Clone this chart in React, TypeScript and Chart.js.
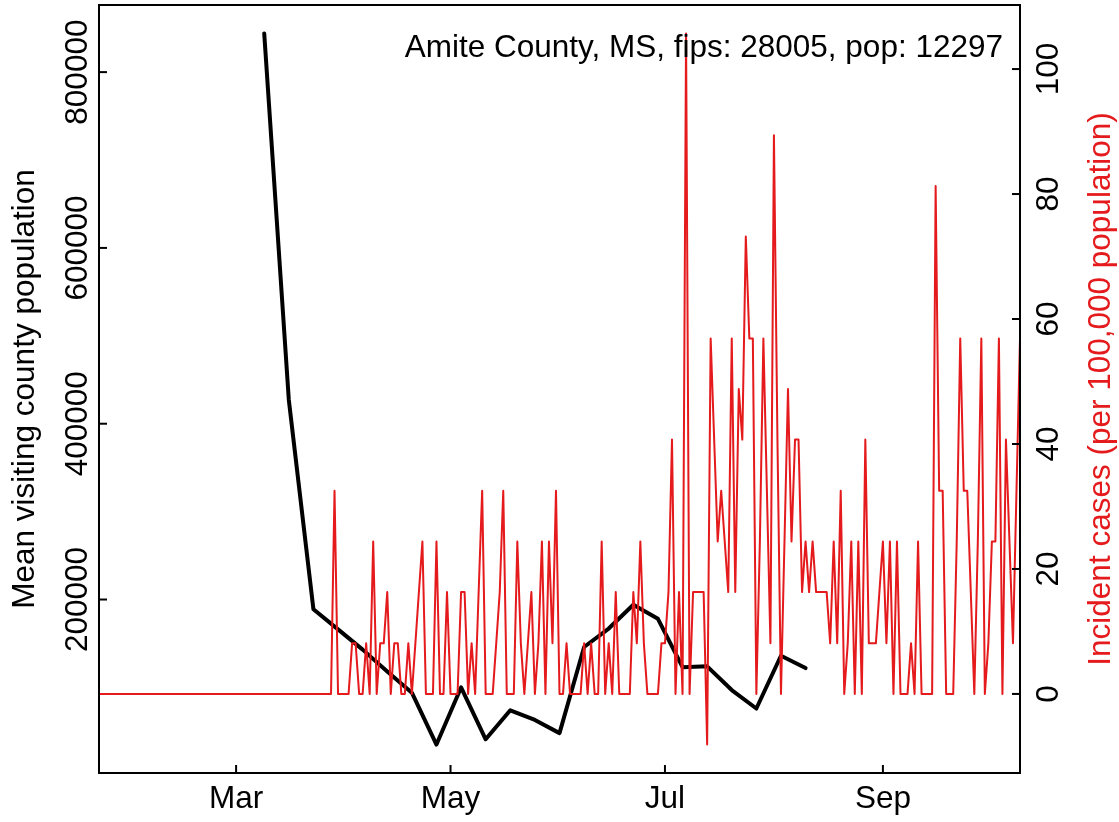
import React, { useEffect, useRef } from 'react';
import { Chart, registerables } from 'chart.js';

Chart.register(...registerables);

// x values are days since 2020-01-22
const monthTickDays = [39, 100, 161, 223];
const monthTickLabels = ['Mar', 'May', 'Jul', 'Sep'];

const weekDays = [47, 54, 61, 68, 75, 82, 89, 96, 103, 110, 117, 124, 131, 138, 145, 152, 159, 166, 173, 180, 187, 194, 201];
const meanVisitingPop = [844000, 427000, 189000, 166000, 143000, 118000, 94000, 35000, 100000, 41000, 74000, 63000, 48000, 146000, 167000, 194000, 178000, 123000, 124000, 97000, 76000, 136000, 122000];

// daily incident cases per 100,000 population, day 0 .. 262
const dailyIncidence = [
  0, 0, 0, 0, 0, 0, 0, 0, 0, 0,
  0, 0, 0, 0, 0, 0, 0, 0, 0, 0,
  0, 0, 0, 0, 0, 0, 0, 0, 0, 0,
  0, 0, 0, 0, 0, 0, 0, 0, 0, 0,
  0, 0, 0, 0, 0, 0, 0, 0, 0, 0,
  0, 0, 0, 0, 0, 0, 0, 0, 0, 0,
  0, 0, 0, 0, 0, 0, 0, 32.5, 0, 0,
  0, 0, 8.1, 8.1, 0, 0, 8.1, 0, 24.4, 0,
  8.1, 8.1, 16.3, 0, 8.1, 8.1, 0, 0, 8.1, 0,
  8.1, 16.3, 24.4, 0, 0, 0, 24.4, 0, 0, 16.3,
  0, 0, 0, 16.3, 16.3, 0, 8.1, 0, 16.3, 32.5,
  0, 0, 0, 8.1, 16.3, 32.5, 0, 0, 0, 24.4,
  8.1, 0, 8.1, 16.3, 0, 8.1, 24.4, 0, 24.4, 8.1,
  32.5, 0, 0, 8.1, 0, 0, 0, 0, 8.1, 0,
  8.1, 0, 0, 24.4, 0, 8.1, 0, 16.3, 0, 0,
  0, 0, 16.3, 8.1, 24.4, 8.1, 0, 0, 0, 0,
  8.1, 8.1, 16.3, 40.7, 0, 16.3, 0, 105.7, 0, 16.3,
  16.3, 16.3, 16.3, -8.1, 56.9, 40.7, 24.4, 32.5, 24.4, 16.3,
  56.9, 16.3, 48.8, 40.7, 73.2, 56.9, 56.9, 0, 24.4, 56.9,
  32.5, 8.1, 89.4, 40.7, 0, 24.4, 48.8, 24.4, 40.7, 40.7,
  16.3, 24.4, 16.3, 24.4, 16.3, 16.3, 16.3, 16.3, 8.1, 24.4,
  8.1, 32.5, 0, 8.1, 24.4, 0, 24.4, 0, 40.7, 8.1,
  8.1, 8.1, 16.3, 24.4, 8.1, 24.4, 0, 24.4, 0, 0,
  0, 8.1, 0, 24.4, 0, 0, 0, 0, 81.3, 32.5,
  32.5, 0, 0, 0, 24.4, 56.9, 32.5, 32.5, 16.3, 0,
  24.4, 56.9, 0, 8.1, 24.4, 24.4, 56.9, 0, 40.7, 24.4,
  8.1, 32.5, 56.9,
];

const leftTicks = [200000, 400000, 600000, 800000];
const rightTicks = [0, 20, 40, 60, 80, 100];

const annotationText = 'Amite County, MS, fips: 28005, pop: 12297';
const leftTitle = 'Mean visiting county population';
const rightTitle = 'Incident cases (per 100,000 population)';

const FONT_FAMILY = '"Liberation Sans", Arial, Helvetica, sans-serif';
const FONT_SIZE = 31.5;
const RED = '#E41A1C';

function paddedRange(vals: number[]): [number, number] {
  const mn = Math.min(...vals);
  const mx = Math.max(...vals);
  const p = (mx - mn) * 0.04;
  return [mn - p, mx + p];
}

const rAxesPlugin = {
  id: 'rAxes',
  afterDraw(chart: any) {
    const ctx = chart.ctx;
    const a = chart.chartArea;
    const font = `${FONT_SIZE}px ${FONT_FAMILY}`;
    ctx.save();
    ctx.strokeStyle = '#000';
    ctx.lineWidth = 2;
    ctx.lineCap = 'butt';
    ctx.strokeRect(a.left, a.top, a.right - a.left, a.bottom - a.top);

    const tick = 8;
    // x ticks (inward)
    const xs = chart.scales.x;
    xs.ticks.forEach((t: any) => {
      const px = xs.getPixelForValue(t.value);
      ctx.beginPath();
      ctx.moveTo(px, a.bottom);
      ctx.lineTo(px, a.bottom - tick);
      ctx.stroke();
    });

    ctx.font = font;
    ctx.fillStyle = '#000';
    ctx.textAlign = 'center';
    ctx.textBaseline = 'alphabetic';

    const ys = chart.scales.y;
    ys.ticks.forEach((t: any) => {
      const py = ys.getPixelForValue(t.value);
      ctx.beginPath();
      ctx.moveTo(a.left, py);
      ctx.lineTo(a.left + tick, py);
      ctx.stroke();
      ctx.save();
      ctx.translate(a.left - 12, py);
      ctx.rotate(-Math.PI / 2);
      ctx.fillText(String(t.value), 0, 0);
      ctx.restore();
    });

    const y2 = chart.scales.y2;
    y2.ticks.forEach((t: any) => {
      const py = y2.getPixelForValue(t.value);
      ctx.beginPath();
      ctx.moveTo(a.right, py);
      ctx.lineTo(a.right - tick, py);
      ctx.stroke();
      ctx.save();
      ctx.translate(a.right + 38, py);
      ctx.rotate(-Math.PI / 2);
      ctx.fillText(String(t.value), 0, 0);
      ctx.restore();
    });

    const midY = (a.top + a.bottom) / 2;
    ctx.save();
    ctx.translate(a.left - 65, midY);
    ctx.rotate(-Math.PI / 2);
    ctx.fillStyle = '#000';
    ctx.fillText(leftTitle, 0, 0);
    ctx.restore();

    ctx.save();
    ctx.translate(a.right + 90, midY);
    ctx.rotate(-Math.PI / 2);
    ctx.fillStyle = RED;
    ctx.fillText(rightTitle, 0, 0);
    ctx.restore();

    ctx.textAlign = 'right';
    ctx.fillStyle = '#000';
    ctx.fillText(annotationText, a.right - 17, a.top + 52);
    ctx.restore();
  },
};

export default function App() {
  const canvasRef = useRef<HTMLCanvasElement | null>(null);

  useEffect(() => {
    const canvas = canvasRef.current;
    if (!canvas) return;
    const [yMin, yMax] = paddedRange(meanVisitingPop);
    const [y2Min, y2Max] = paddedRange(dailyIncidence);

    const chart = new Chart(canvas, {
      type: 'line',
      data: {
        datasets: [
          {
            label: 'Incident cases',
            data: dailyIncidence.map((v, i) => ({ x: i, y: v })),
            yAxisID: 'y2',
            borderColor: RED,
            borderWidth: 2,
            pointRadius: 0,
            tension: 0,
            fill: false,
            borderJoinStyle: 'round',
            borderCapStyle: 'round',
          },
          {
            label: 'Mean visiting county population',
            data: weekDays.map((d, i) => ({ x: d, y: meanVisitingPop[i] })),
            yAxisID: 'y',
            borderColor: '#000',
            borderWidth: 4,
            pointRadius: 0,
            tension: 0,
            fill: false,
            borderJoinStyle: 'round',
            borderCapStyle: 'round',
          },
        ],
      },
      options: {
        responsive: false,
        animation: false,
        devicePixelRatio: 1,
        layout: { padding: { top: 5, left: 0, right: 0, bottom: 0 } },
        plugins: { legend: { display: false }, tooltip: { enabled: false } },
        scales: {
          x: {
            type: 'linear',
            position: 'bottom',
            min: 0,
            max: dailyIncidence.length - 1,
            afterBuildTicks: (scale: any) => {
              scale.ticks = monthTickDays.map((v) => ({ value: v }));
            },
            afterFit: (scale: any) => {
              scale.height = 49;
            },
            grid: { display: false, drawTicks: false },
            border: { display: false },
            ticks: {
              autoSkip: false,
              maxRotation: 0,
              minRotation: 0,
              padding: 7,
              color: '#000',
              font: { family: FONT_FAMILY, size: FONT_SIZE },
              callback: (_v: any, i: number) => monthTickLabels[i],
            },
          },
          y: {
            type: 'linear',
            position: 'left',
            min: yMin,
            max: yMax,
            afterBuildTicks: (scale: any) => {
              scale.ticks = leftTicks.map((v) => ({ value: v }));
            },
            afterFit: (scale: any) => {
              scale.width = 99;
            },
            grid: { display: false, drawTicks: false },
            border: { display: false },
            ticks: { display: false },
          },
          y2: {
            type: 'linear',
            position: 'right',
            min: y2Min,
            max: y2Max,
            afterBuildTicks: (scale: any) => {
              scale.ticks = rightTicks.map((v) => ({ value: v }));
            },
            afterFit: (scale: any) => {
              scale.width = 99;
            },
            grid: { display: false, drawTicks: false },
            border: { display: false },
            ticks: { display: false },
          },
        },
      },
      plugins: [rAxesPlugin],
    } as any);

    return () => chart.destroy();
  }, []);

  return (
    <div style={{ position: 'fixed', left: 0, top: 0, width: 1119, height: 822, background: '#fff' }}>
      <canvas ref={canvasRef} width={1119} height={822} />
    </div>
  );
}
